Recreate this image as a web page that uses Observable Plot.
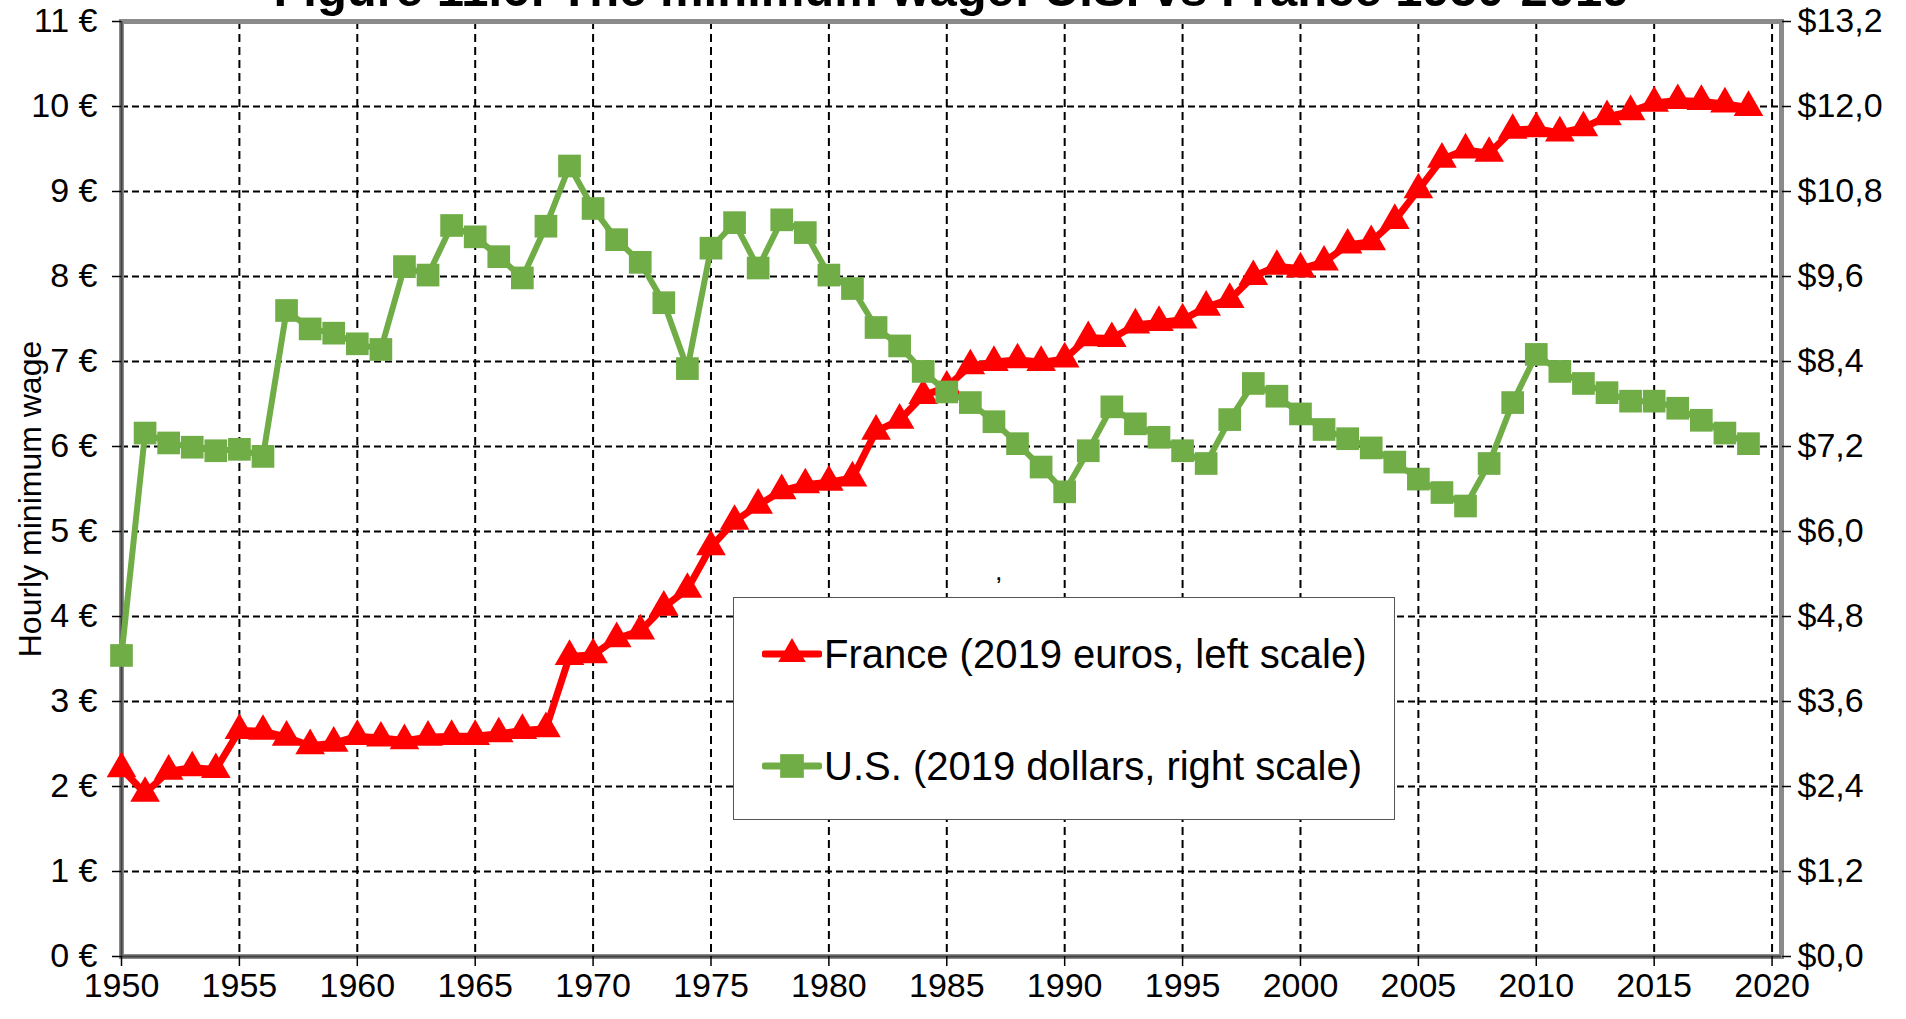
<!DOCTYPE html>
<html>
<head>
<meta charset="utf-8">
<script src="https://cdn.jsdelivr.net/npm/d3@7"></script>
<script src="https://cdn.jsdelivr.net/npm/@observablehq/plot@0.6"></script>
<style>
  body { margin: 0; background: #fff; }
  #wrap { position: relative; width: 1906px; height: 1019px; overflow: hidden; font-family: "Liberation Sans", Arial, sans-serif; }
  #legend { position: absolute; left: 733px; top: 597px; width: 662px; height: 223px; box-sizing: border-box;
            border: 1.5px solid #555; background: #fff; }
  .row { position: absolute; left: 0; height: 60px; display: flex; align-items: center; }
  .row span { font-size: 40px; color: #000; white-space: nowrap; }
</style>
</head>
<body>
<div id="wrap"><div id="legend"></div></div>
<script>
const title = "Figure 11.6: The minimum wage: U.S. vs France 1950-2019";
const yLabel = "Hourly minimum wage";
const years = d3.range(1950, 2020);
const franceEUR = [
  2.21, 1.92, 2.18, 2.22, 2.20, 2.66, 2.65, 2.58, 2.48, 2.51,
  2.59, 2.57, 2.54, 2.58, 2.59, 2.59, 2.62, 2.66, 2.68, 3.53,
  3.55, 3.74, 3.83, 4.11, 4.32, 4.82, 5.12, 5.31, 5.48, 5.55,
  5.58, 5.63, 6.18, 6.31, 6.60, 6.70, 6.95, 6.99, 7.02, 6.99,
  7.03, 7.28, 7.27, 7.43, 7.46, 7.49, 7.64, 7.73, 8.00, 8.12,
  8.09, 8.17, 8.37, 8.41, 8.66, 9.02, 9.38, 9.49, 9.45, 9.72,
  9.74, 9.69, 9.75, 9.88, 9.94, 10.04, 10.07, 10.06, 10.03, 9.99
];
const usUSD = [
  4.25, 7.39, 7.25, 7.19, 7.14, 7.16, 7.06, 9.12, 8.86, 8.80,
  8.65, 8.57, 9.74, 9.62, 10.32, 10.16, 9.88, 9.58, 10.31, 11.16,
  10.56, 10.12, 9.80, 9.23, 8.30, 10.00, 10.36, 9.72, 10.40, 10.22,
  9.62, 9.43, 8.88, 8.62, 8.26, 7.97, 7.82, 7.55, 7.24, 6.91,
  6.56, 7.14, 7.76, 7.52, 7.33, 7.14, 6.96, 7.58, 8.09, 7.91,
  7.66, 7.44, 7.31, 7.18, 6.98, 6.74, 6.55, 6.36, 6.96, 7.82,
  8.50, 8.26, 8.09, 7.96, 7.84, 7.84, 7.74, 7.57, 7.39, 7.24
];
const xTicks = [1950, 1955, 1960, 1965, 1970, 1975, 1980, 1985, 1990, 1995, 2000, 2005, 2010, 2015, 2020];
const leftTicks = [0, 1, 2, 3, 4, 5, 6, 7, 8, 9, 10, 11];
const rightTicks = [0, 1.2, 2.4, 3.6, 4.8, 6.0, 7.2, 8.4, 9.6, 10.8, 12.0, 13.2];
const leftMax = 11, rightMax = 13.2;
const seriesNames = ["France (2019 euros, left scale)", "U.S. (2019 dollars, right scale)"];
const seriesColors = ["#FF0000", "#70AD47"];
const strayMark = [{year: 1987.2, value: 4.5, label: ","}];

const toLeft = leftMax / rightMax;
const france = years.map((year, i) => ({year, value: franceEUR[i]}));
const us = years.map((year, i) => ({year, value: usUSD[i] * toLeft}));

const chart = Plot.plot({
  width: 1906,
  height: 1019,
  marginLeft: 121,
  marginRight: 125,
  marginTop: 21,
  marginBottom: 63,
  style: {fontFamily: "'Liberation Sans', Arial, sans-serif", fontSize: "34px", background: "#fff", color: "#000", overflow: "visible"},
  x: {domain: [1950, 2020.4]},
  y: {domain: [0, leftMax]},
  marks: [
    Plot.gridY({ticks: leftTicks, stroke: "#000", strokeOpacity: 1, strokeWidth: 2, strokeDasharray: "7,4"}),
    Plot.gridX({ticks: xTicks, stroke: "#000", strokeOpacity: 1, strokeWidth: 2, strokeDasharray: "8,5"}),
    Plot.frame({stroke: "#8a8a8a", strokeWidth: 5}),
    Plot.ruleX([1950], {stroke: "#404040", strokeWidth: 2}),
    Plot.ruleY([0], {stroke: "#404040", strokeWidth: 2}),
    Plot.axisX({ticks: xTicks, tickFormat: d => String(d), tickSize: 10, tickPadding: 6, label: null, stroke: "#000", strokeWidth: 1.5}),
    Plot.axisY({anchor: "left", ticks: leftTicks, tickFormat: d => d + " €", tickSize: 9, tickPadding: 15, label: null, strokeWidth: 1.5}),
    Plot.axisY({anchor: "right", ticks: rightTicks.map(v => v * toLeft),
      tickFormat: d => "$" + (d / toLeft).toFixed(1).replace(".", ","), tickSize: 9, tickPadding: 7, label: null, strokeWidth: 1.5}),
    Plot.text([title], {frameAnchor: "top", dy: -16, lineAnchor: "bottom", fontSize: 49, fontWeight: "bold"}),
    Plot.text([yLabel], {frameAnchor: "left", textAnchor: "middle", dx: -91, dy: 10, rotate: -90, fontSize: 32}),
    Plot.text(strayMark, {x: "year", y: "value", text: "label", fontSize: 18, fontWeight: "bold"}),
    Plot.line(france, {x: "year", y: "value", stroke: seriesColors[0], strokeWidth: 7, strokeLinejoin: "round"}),
    Plot.dot(france, {x: "year", y: "value", symbol: "triangle", r: 11, fill: seriesColors[0], stroke: "none"}),
    Plot.line(us, {x: "year", y: "value", stroke: seriesColors[1], strokeWidth: 6, strokeLinejoin: "round"}),
    Plot.dot(us, {x: "year", y: "value", symbol: "square", r: 12.8, fill: seriesColors[1], stroke: "none"})
  ]
});
const wrap = document.getElementById("wrap");
wrap.insertBefore(chart, wrap.firstChild);

// Legend
const legend = d3.select("#legend");
const rowTops = [26, 138];
const symbols = [d3.symbolTriangle, d3.symbolSquare];
const symbolSizes = [330, 560];
seriesNames.forEach((name, i) => {
  const row = legend.append("div").attr("class", "row").style("top", rowTops[i] + "px").style("left", "28px");
  const svg = row.append("svg").attr("width", 60).attr("height", 60).style("display", "block");
  svg.append("line").attr("x1", 3).attr("x2", 57).attr("y1", 30).attr("y2", 30)
    .attr("stroke", seriesColors[i]).attr("stroke-width", 7).attr("stroke-linecap", "round");
  svg.append("path").attr("transform", "translate(30,30)")
    .attr("d", d3.symbol(symbols[i], symbolSizes[i])()).attr("fill", seriesColors[i]);
  row.append("span").text(name).style("margin-left", "2px");
});
</script>
</body>
</html>
